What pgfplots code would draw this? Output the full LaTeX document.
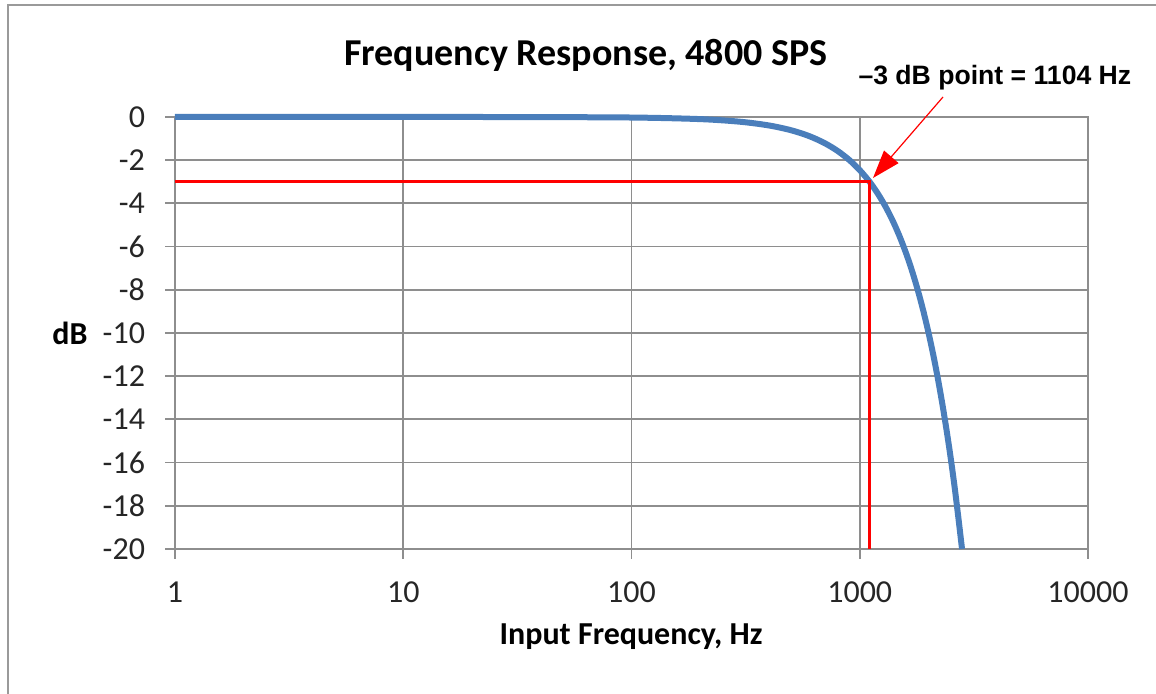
\documentclass[border=0pt]{standalone}
\usepackage{pgfplots}
\pgfplotsset{compat=1.18}
\usetikzlibrary{arrows.meta}
\usepackage{fontspec}
\setmainfont{Carlito}
\newfontfamily\arialfont{Liberation Sans}
\definecolor{curveblue}{HTML}{4A7EBB}
\definecolor{gridgray}{HTML}{8E8E8E}
\definecolor{framegray}{HTML}{9A9A9A}
\pgfplotstableread{
f dB
1 0
10 -0.0002
30 -0.0022
100 -0.0245
200 -0.098
300 -0.2205
400 -0.392
500 -0.613
600 -0.883
700 -1.203
800 -1.572
900 -1.991
1000 -2.460
1104 -3.000
1200 -3.549
1300 -4.170
1400 -4.842
1500 -5.566
1600 -6.342
1700 -7.171
1800 -8.052
1900 -8.987
2000 -9.976
2100 -11.02
2200 -12.12
2300 -13.28
2400 -14.49
2500 -15.75
2600 -17.08
2700 -18.49
2806 -20.00
}\resp
\begin{document}
\begin{tikzpicture}
\begin{semilogxaxis}[
  at={(0,0)}, anchor=south west,
  scale only axis, width=456.5pt, height=216pt,
  xmin=1, xmax=10000, ymin=-20, ymax=0,
  xtick={1,10,100,1000,10000},
  xticklabels={1,10,100,1000,10000},
  ytick={-20,-18,-16,-14,-12,-10,-8,-6,-4,-2,0},
  yticklabels={-20,-18,-16,-14,-12,-10,-8,-6,-4,-2,0},
  xminorticks=false,
  grid=major,
  major grid style={gridgray, line width=0.9pt},
  axis line style={gridgray, line width=0.9pt},
  tick style={gridgray, line width=0.9pt},
  tick align=outside, major tick length=5pt,
  xtick pos=bottom, ytick pos=left,
  ticklabel style={font=\fontsize{16}{16}\selectfont, text=black!85},
  xticklabel style={yshift=-8pt},
  yticklabel style={xshift=-6.5pt},
  clip=false,
]
\addplot[curveblue, line width=3pt, smooth] table[x=f, y=dB] {\resp};
\addplot[red, line width=1.5pt] coordinates {(1,-3) (1104,-3) (1104,-20)};
\draw[red, line width=0.6pt, -{Triangle[length=14pt, width=9.5pt]}] (axis cs:2316,0.926) -- (axis cs:1143,-2.824);
\node[font=\arialfont\bfseries\fontsize{13.3}{14}\selectfont] at (rel axis cs:0.898,1.0903) {–3 dB point = 1104 Hz};
\node[font=\bfseries\fontsize{19}{20}\selectfont] at (rel axis cs:0.450,1.1435) {Frequency Response, 4800 SPS};
\node[font=\bfseries\fontsize{16}{16}\selectfont] at (rel axis cs:-0.115,0.5) {dB};
\node[font=\bfseries\fontsize{16}{16}\selectfont] at (rel axis cs:0.4995,-0.2037) {Input Frequency, Hz};
\end{semilogxaxis}
\draw[framegray, line width=1.2pt] (-83.5pt,-72.5pt) -- (-83.5pt,272pt) -- (490.5pt,272pt);
\pgfresetboundingbox
\path[use as bounding box] (-87.5pt,-72.5pt) rectangle (490.5pt,274.5pt);
\end{tikzpicture}
\end{document}
